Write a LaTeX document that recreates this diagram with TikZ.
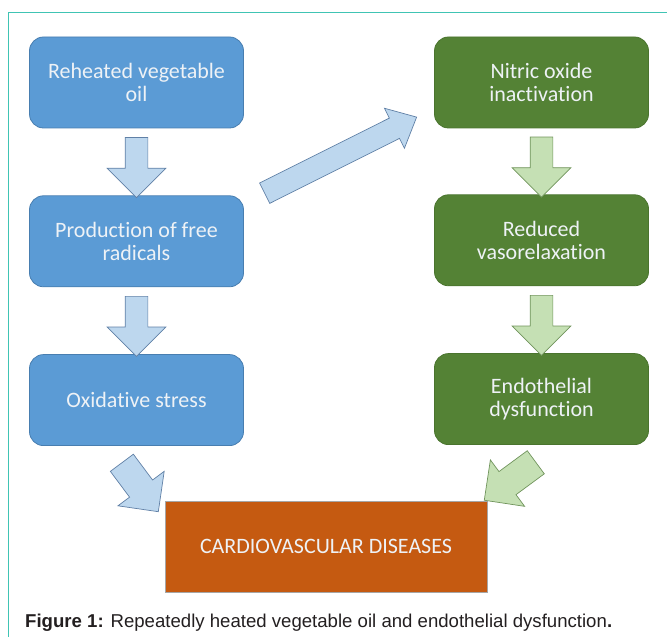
\documentclass[tikz,border=0pt]{standalone}
\usepackage{fontspec}
\newfontfamily\boxfont[Ligatures=NoCommon]{Carlito}
\newfontfamily\capfont{Liberation Sans}
\usepackage{tikz}
\usetikzlibrary{positioning,calc,shapes.arrows}
\definecolor{oilblue}{RGB}{91,155,213}
\definecolor{oilblueline}{RGB}{72,126,176}
\definecolor{nogreen}{RGB}{84,130,53}
\definecolor{nogreenline}{RGB}{74,116,46}
\definecolor{cvdorange}{RGB}{197,90,17}
\definecolor{arrowblue}{RGB}{189,215,238}
\definecolor{arrowblueline}{RGB}{96,128,166}
\definecolor{arrowgreen}{RGB}{197,224,180}
\definecolor{arrowgreenline}{RGB}{112,148,92}
\definecolor{frameteal}{RGB}{64,196,180}
\definecolor{boxtext}{RGB}{238,242,246}
\definecolor{captext}{RGB}{35,31,32}
\tikzstyle{block} = [rectangle, rounded corners=14pt, minimum width=214pt, minimum height=91pt, align=center, text=boxtext, font=\boxfont\fontsize{22}{23}\selectfont, line width=0.8pt]
\tikzstyle{blueblock} = [block, fill=oilblue, draw=oilblueline]
\tikzstyle{greenblock} = [block, fill=nogreen, draw=nogreenline]
\tikzstyle{cvdblock} = [block, rounded corners=0pt, minimum width=322pt, fill=cvdorange, draw=gray!70]
\tikzstyle{fatarrow} = [single arrow, single arrow head indent=0pt, inner xsep=0pt, line width=0.7pt]
\tikzstyle{downarrow} = [fatarrow, minimum height=60pt, inner ysep=11pt, single arrow head extend=18pt, rotate=-90]
\tikzstyle{bluearrow} = [fill=arrowblue, draw=arrowblueline]
\tikzstyle{greenarrow} = [fill=arrowgreen, draw=arrowgreenline]

\begin{document}
\begin{tikzpicture}[x=1pt, y=1pt]
        \useasboundingbox (0,0) rectangle (667,637);
        \draw[frameteal, line width=1pt] (8,0) -- (8,624) -- (667,624);
        % left column
        \node[blueblock] (reheat) at (136.5,554.5) {Reheated vegetable\\oil};
        \node[blueblock, below=67pt of reheat] (radicals) {Production of free\\radicals};
        \node[blueblock, below=67pt of radicals] (oxstress) {Oxidative stress};
        % right column
        \node[greenblock] (nitric) at (541.5,554.5) {Nitric oxide\\inactivation};
        \node[greenblock, below=66pt of nitric] (vaso) {Reduced\\vasorelaxation};
        \node[greenblock, below=67pt of vaso] (endo) {Endothelial\\dysfunction};
        \node[cvdblock] (cvd) at (326,90.5) {CARDIOVASCULAR DISEASES};
        % block arrows
        \node[downarrow, bluearrow] (ar1) at ($(reheat.south)!0.5!(radicals.north)$) {};
        \node[downarrow, bluearrow] (ar2) at ($(radicals.south)!0.5!(oxstress.north)$) {};
        \node[downarrow, greenarrow] (ag1) at ($(nitric.south)!0.5!(vaso.north)$) {};
        \node[downarrow, greenarrow] (ag2) at ($(vaso.south)!0.5!(endo.north)$) {};
        \node[fatarrow, bluearrow, minimum height=170pt, inner ysep=11pt, single arrow head extend=11pt, single arrow tip angle=84, rotate=26.6] (adiag) at (335,479) {};
        \node[fatarrow, bluearrow, minimum height=61pt, inner ysep=14pt, single arrow head extend=14.5pt, rotate=-53.3] (aleft) at (135.8,155.5) {};
        \node[fatarrow, greenarrow, minimum height=64pt, inner ysep=14pt, single arrow head extend=14.5pt, rotate=216.4] (aright) at (515.8,160) {};
        % caption
        \node[anchor=base west, inner sep=0pt, text=captext, font=\capfont\fontsize{18.6}{21}\selectfont] (caption) at (25,9) {\textbf{Figure 1:} Repeatedly heated vegetable oil and endothelial dysfunction\textbf{.}};
\end{tikzpicture}
\end{document}
